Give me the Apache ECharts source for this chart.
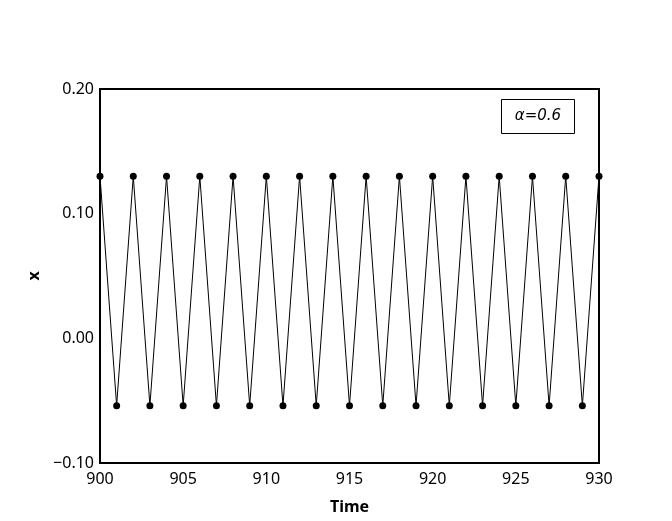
<!DOCTYPE html>
<html>
<head>
<meta charset="utf-8">
<script src="https://cdn.jsdelivr.net/npm/echarts@6/dist/echarts.min.js"></script>
<style>
  html, body { margin: 0; padding: 0; background: #fff; }
  #chart { width: 672px; height: 521px; }
</style>
</head>
<body>
<div id="chart"></div>
<script>
  // time steps and the oscillating x values
  var times = [900, 901, 902, 903, 904, 905, 906, 907, 908, 909, 910,
               911, 912, 913, 914, 915, 916, 917, 918, 919, 920,
               921, 922, 923, 924, 925, 926, 927, 928, 929, 930, 931];
  var xValues = [0.130, -0.054, 0.130, -0.054, 0.130, -0.054, 0.130, -0.054, 0.130, -0.054, 0.130,
                 -0.054, 0.130, -0.054, 0.130, -0.054, 0.130, -0.054, 0.130, -0.054, 0.130,
                 -0.054, 0.130, -0.054, 0.130, -0.054, 0.130, -0.054, 0.130, -0.054, 0.130, -0.054];
  var legendText = 'α=0.6';

  var points = times.map(function (t, i) { return [t, xValues[i]]; });

  var chart = echarts.init(document.getElementById('chart'));
  var font = 'Noto Sans';

  chart.setOption({
    animation: false,
    grid: {
      left: 100, right: 73, top: 89, bottom: 58,
      show: true,
      borderColor: '#000',
      borderWidth: 2,
      backgroundColor: 'transparent'
    },
    xAxis: {
      type: 'value',
      min: 900,
      max: 930,
      interval: 5,
      name: 'Time',
      nameLocation: 'middle',
      nameGap: 36,
      nameTextStyle: { fontFamily: font, fontSize: 16, fontWeight: 'bold', color: '#000' },
      axisLine: { show: false },
      axisTick: { show: false },
      splitLine: { show: false },
      axisLabel: { fontFamily: font, fontSize: 16, color: '#000', margin: 8 }
    },
    yAxis: {
      type: 'value',
      min: -0.1,
      max: 0.2,
      interval: 0.1,
      name: 'x',
      nameLocation: 'middle',
      nameGap: 58,
      nameTextStyle: { fontFamily: font, fontSize: 16, fontWeight: 'bold', color: '#000' },
      axisLine: { show: false },
      axisTick: { show: false },
      splitLine: { show: false },
      axisLabel: {
        fontFamily: font, fontSize: 16, color: '#000', margin: 6,
        formatter: function (v) {
          var s = Math.abs(v).toFixed(2);
          return v < 0 ? '\u2212' + s : s;
        }
      }
    },
    graphic: [{
      type: 'group',
      left: 501,
      top: 99,
      children: [
        { type: 'rect', shape: { x: 0, y: 0, width: 73, height: 34 },
          style: { fill: '#fff', stroke: '#000', lineWidth: 1 } },
        { type: 'text', x: 36.5, y: 17,
          style: { text: legendText, fontFamily: 'DejaVu Sans', fontSize: 15, fontStyle: 'italic',
                   fill: '#000', align: 'center', verticalAlign: 'middle' } }
      ]
    }],
    series: [{
      type: 'line',
      data: points,
      clip: true,
      symbol: 'circle',
      symbolSize: 7,
      lineStyle: { color: '#000', width: 1 },
      itemStyle: { color: '#000' }
    }]
  });
</script>
</body>
</html>
